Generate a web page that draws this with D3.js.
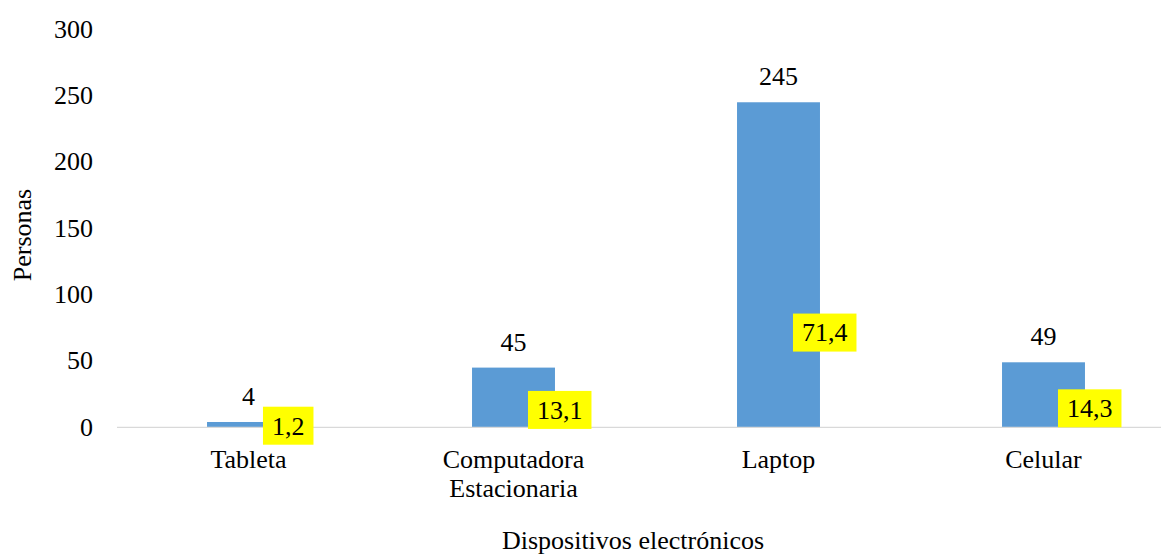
<!DOCTYPE html>
<html>
<head>
<meta charset="utf-8">
<script src="https://cdn.jsdelivr.net/npm/d3@7"></script>
</head>
<body style="margin:0">
<script>
// data
var categories = ["Tableta", "Computadora Estacionaria", "Laptop", "Celular"];
var labelLines = [["Tableta"], ["Computadora", "Estacionaria"], ["Laptop"], ["Celular"]];
var personas = [4, 45, 245, 49];
var porcentajes = [1.2, 13.1, 71.4, 14.3];
var yTicks = [0, 50, 100, 150, 200, 250, 300];

// settings
var w = 1161, h = 555;
var fontSize = 26;
var font = "Times New Roman";

var svg = d3.select("body").append("svg").attr("width", w).attr("height", h)
  .attr("font-family", font).attr("font-size", fontSize);

// scales
var xScale = d3.scaleBand().domain(categories).range([116, 1176]).paddingInner(0.687).paddingOuter(0.3435);
var yScale = d3.scaleLinear().domain([0, 300]).range([427.3, 29.3]);

// y axis (labels only)
var yAxis = d3.axisLeft(yScale).tickValues(yTicks).tickSize(0).tickPadding(0);
var yg = svg.append("g").attr("transform", "translate(93,0)").call(yAxis);
yg.attr("font-family", font).attr("font-size", fontSize);
yg.select(".domain").remove();
yg.selectAll("text").attr("font-family", font).attr("dy", "0.3em").attr("fill", "#000");

// bars
svg.selectAll("rect.bar").data(personas).enter().append("rect").attr("class", "bar")
  .attr("x", function(d, i) { return xScale(categories[i]); })
  .attr("y", function(d) { return yScale(d); })
  .attr("width", xScale.bandwidth())
  .attr("height", function(d) { return yScale(0) - yScale(d); })
  .attr("fill", "#5B9BD5");

// x axis line
svg.append("line").attr("x1", 117).attr("x2", w).attr("y1", yScale(0)).attr("y2", yScale(0))
  .attr("stroke", "#D9D9D9").attr("stroke-width", 1.3);

// category labels
var xAxis = d3.axisBottom(xScale).tickSize(0).tickFormat(function() { return ""; });
var xg = svg.append("g").attr("transform", "translate(0," + yScale(0) + ")").call(xAxis);
xg.attr("font-family", font).attr("font-size", fontSize);
xg.select(".domain").remove();
xg.selectAll(".tick text").each(function(d, i) {
  var t = d3.select(this).attr("y", 0).attr("dy", null).attr("font-family", font).attr("fill", "#000");
  labelLines[i].forEach(function(line, j) {
    t.append("tspan").attr("x", 0).attr("y", 41 + j * 29).text(line);
  });
});

// value labels above bars
svg.selectAll("text.val").data(personas).enter().append("text").attr("class", "val")
  .attr("x", function(d, i) { return xScale(categories[i]) + xScale.bandwidth() / 2; })
  .attr("y", function(d) { return yScale(d) - 17; })
  .attr("text-anchor", "middle").attr("font-family", font)
  .text(function(d) { return d; });

// percentage labels (yellow boxes)
var fmt = function(d) { return d3.format(".1f")(d).replace(".", ","); };
var boxW = function(d) { return fontSize * (0.5 * (fmt(d).length - 1) + 0.25) + 18; };
var pg = svg.selectAll("g.pct").data(porcentajes).enter().append("g").attr("class", "pct")
  .attr("transform", function(d, i) {
    return "translate(" + (xScale(categories[i]) + xScale.bandwidth() - 27) + "," + yScale(d) + ")";
  });
pg.append("rect").attr("x", 0).attr("y", -19).attr("height", 38).attr("width", boxW).attr("fill", "#FFFF00");
pg.append("text").attr("x", function(d) { return boxW(d) / 2; }).attr("y", 0).attr("dy", "0.34em")
  .attr("text-anchor", "middle").attr("font-family", font)
  .text(fmt);

// axis titles
svg.append("text").attr("transform", "translate(31,235) rotate(-90)").attr("text-anchor", "middle")
  .attr("font-family", font).text("Personas");
svg.append("text").attr("x", 633).attr("y", 549).attr("text-anchor", "middle")
  .attr("font-family", font).text("Dispositivos electrónicos");
</script>
</body>
</html>
